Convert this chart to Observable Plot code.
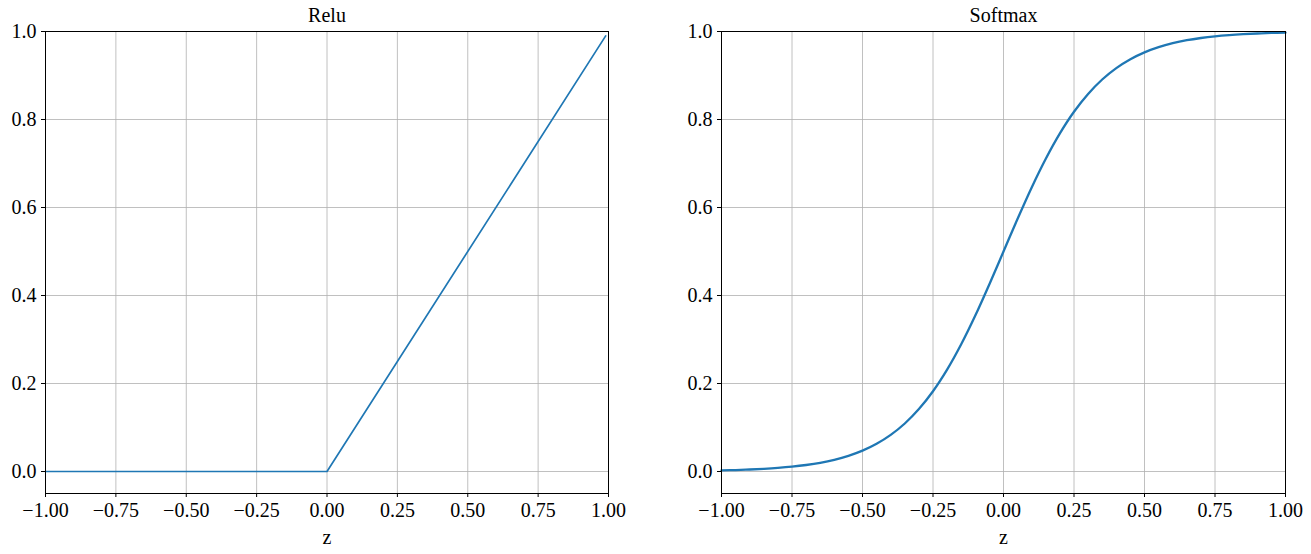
<!DOCTYPE html>
<html>
<head>
<meta charset="utf-8">
<script src="https://cdn.jsdelivr.net/npm/d3@7"></script>
<script src="https://cdn.jsdelivr.net/npm/@observablehq/plot@0.6"></script>
<style>
  html, body { margin: 0; padding: 0; background: #fff; }
  #wrap { display: flex; flex-direction: row; width: 1311px; height: 554px; }
</style>
</head>
<body>
<div id="wrap"></div>
<script>
// ---- data ----
const titles = ["Relu", "Softmax"];
const xLabel = "z";
const xTicks = [-1, -0.75, -0.5, -0.25, 0, 0.25, 0.5, 0.75, 1];
const yTicks = [0, 0.2, 0.4, 0.6, 0.8, 1.0];

const reluZ = [-1.0, 0.0, 0.99];
const reluY = [0.0, 0.0, 0.99];

const softZ = [-1.00, -0.95, -0.90, -0.85, -0.80, -0.75, -0.70, -0.65, -0.60, -0.55,
               -0.50, -0.45, -0.40, -0.35, -0.30, -0.25, -0.20, -0.15, -0.10, -0.05,
                0.00,  0.05,  0.10,  0.15,  0.20,  0.25,  0.30,  0.35,  0.40,  0.45,
                0.50,  0.55,  0.60,  0.65,  0.70,  0.75,  0.80,  0.85,  0.90,  0.95, 1.00];
const softY = [0.0025, 0.0033, 0.0045, 0.0061, 0.0082, 0.0110, 0.0148, 0.0198, 0.0266, 0.0356,
               0.0474, 0.0630, 0.0832, 0.1091, 0.1419, 0.1824, 0.2315, 0.2891, 0.3543, 0.4256,
               0.5000, 0.5744, 0.6457, 0.7109, 0.7685, 0.8176, 0.8581, 0.8909, 0.9168, 0.9370,
               0.9526, 0.9644, 0.9734, 0.9802, 0.9852, 0.9890, 0.9918, 0.9939, 0.9955, 0.9967, 0.9975];

const relu = reluZ.map((z, i) => ({z, y: reluY[i]}));
const soft = softZ.map((z, i) => ({z, y: softY[i]}));

const FONT = "'Liberation Serif', serif";
const FS = 20;
const fmtX = d3.format(".2f");
const fmtY = d3.format(".1f");

function panel(data, title, opts) {
  return Plot.plot({
    width: opts.width,
    height: 554,
    marginLeft: opts.ml,
    marginRight: opts.mr,
    marginTop: 31,
    marginBottom: 61,
    style: {fontFamily: FONT, fontSize: FS + "px", background: "#fff", color: "#000"},
    x: {domain: [-1, 1]},
    y: {domain: [-0.05, 1.0]},
    marks: [
      Plot.gridX(xTicks, {stroke: "#b0b0b0", strokeOpacity: 1, strokeWidth: 0.8}),
      Plot.gridY(yTicks, {stroke: "#b0b0b0", strokeOpacity: 1, strokeWidth: 0.8}),
      Plot.line(data, {x: "z", y: "y", stroke: "#1f77b4", strokeWidth: opts.sw, curve: opts.curve}),
      Plot.frame({stroke: "#000", strokeWidth: 1}),
      Plot.axisX(xTicks, {tickFormat: fmtX, tickSize: 4, tickPadding: 5, fontSize: FS, fontFamily: FONT,
        stroke: "#000", fill: "#000",
        label: xLabel, labelAnchor: "center", labelArrow: "none", labelOffset: 50}),
      Plot.axisY(yTicks, {tickFormat: fmtY, tickSize: 4, tickPadding: 5, fontSize: FS, fontFamily: FONT,
        stroke: "#000", fill: "#000", label: null}),
      Plot.text([title], {frameAnchor: "top", lineAnchor: "middle", dy: -16, text: d => d,
        fontSize: FS, fontFamily: FONT, fill: "#000"})
    ]
  });
}

const wrap = document.getElementById("wrap");
wrap.appendChild(panel(relu, titles[0], {width: 655, ml: 45, mr: 47, sw: 1.7, curve: "linear"}));
wrap.appendChild(panel(soft, titles[1], {width: 656, ml: 66, mr: 26, sw: 2.3, curve: "catmull-rom"}));
</script>
</body>
</html>
